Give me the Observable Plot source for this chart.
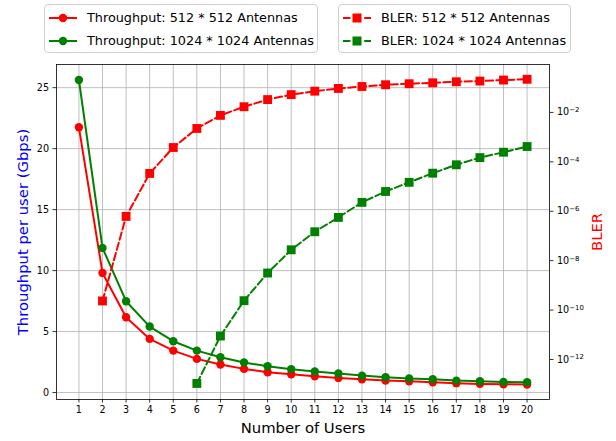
<!DOCTYPE html>
<html><head><meta charset="utf-8">
<script src="https://cdn.jsdelivr.net/npm/d3@7"></script>
<script src="https://cdn.jsdelivr.net/npm/@observablehq/plot@0.6"></script>
<style>
body{margin:0;background:#fff;font-family:"DejaVu Sans",sans-serif;}
#wrap{position:relative;width:616px;height:441px;overflow:hidden;background:#fff;}
#legend{position:relative;height:60px;}
.box{position:absolute;top:4px;height:47px;border:1px solid #d0d0d0;border-radius:4px;background:rgba(255,255,255,0.8);box-sizing:content-box;}
.sym{position:absolute;left:4px;width:28px;height:20px;}
.lab{position:absolute;left:42px;height:20px;line-height:20px;font-size:12.8px;color:#000;white-space:nowrap;}
#layer2{position:absolute;left:0;top:60px;}
</style></head>
<body><div id="wrap"><div id="legend"></div><div id="layer1"></div><div id="layer2"></div></div>
<script>
// ---- data ----
const users = [1,2,3,4,5,6,7,8,9,10,11,12,13,14,15,16,17,18,19,20];
const leftTicks = [0,5,10,15,20,25];
const rightTicks = [1e-2,1e-4,1e-6,1e-8,1e-10,1e-12];
const rightTickExps = ["−2","−4","−6","−8","−10","−12"];
const thr512  = [21.75,9.81,6.17,4.40,3.44,2.76,2.30,1.94,1.67,1.50,1.34,1.20,1.09,0.98,0.93,0.85,0.77,0.71,0.68,0.66];
const thr1024 = [25.63,11.86,7.49,5.41,4.21,3.44,2.90,2.46,2.16,1.92,1.72,1.56,1.39,1.26,1.15,1.09,0.98,0.93,0.87,0.85];
const bler512  = [null,2.34e-10,6.17e-7,3.39e-5,3.80e-4,2.24e-3,7.59e-3,1.70e-2,3.31e-2,5.25e-2,7.24e-2,9.33e-2,0.112,0.132,0.145,0.158,0.174,0.186,0.204,0.219];
const bler1024 = [null,null,null,null,null,1.07e-13,8.91e-12,2.40e-10,3.16e-9,2.75e-8,1.48e-7,5.62e-7,2.29e-6,6.31e-6,1.48e-5,3.47e-5,7.59e-5,1.48e-4,2.45e-4,4.17e-4];
const legendLeft = [
  {label:"Throughput: 512 * 512 Antennas", color:"red", symbol:"circle", dash:null},
  {label:"Throughput: 1024 * 1024 Antennas", color:"green", symbol:"circle", dash:null}
];
const legendRight = [
  {label:"BLER: 512 * 512 Antennas", color:"red", symbol:"square", dash:"7.4,3.2"},
  {label:"BLER: 1024 * 1024 Antennas", color:"green", symbol:"square", dash:"7.4,3.2"}
];

// ---- tables ----
const toRows = vals => users.map((u,i)=>({users:u, value:vals[i]})).filter(d=>d.value!=null);
const t512 = toRows(thr512), t1024 = toRows(thr1024);
const b512 = toRows(bler512), b1024 = toRows(bler1024);

const W=616, H=381, mL=56, mR=67, mT=4, mB=42;
const xDomain=[0.05,20.95];
const gridStyle={stroke:"#b0b0b0",strokeOpacity:1,strokeWidth:0.8};
const common={width:W,height:H,marginLeft:mL,marginRight:mR,marginTop:mT,marginBottom:mB,
  style:{fontFamily:"DejaVu Sans",fontSize:"9.6px",background:"transparent",overflow:"visible"}};

const p1 = Plot.plot({...common,
  x:{domain:xDomain},
  y:{domain:[-0.57,26.9]},
  marks:[
    Plot.gridX(users,gridStyle),
    Plot.gridY(leftTicks,gridStyle),
    Plot.line(t512,{x:"users",y:"value",stroke:"red",strokeWidth:2}),
    Plot.dot(t512,{x:"users",y:"value",r:4.2,fill:"red"}),
    Plot.line(t1024,{x:"users",y:"value",stroke:"green",strokeWidth:2}),
    Plot.dot(t1024,{x:"users",y:"value",r:4.2,fill:"green"}),
    Plot.axisX(users,{tickSize:3.5,tickPadding:3.5,fontSize:9.6,label:null,stroke:"black",strokeWidth:0.8}),
    Plot.axisY(leftTicks,{anchor:"left",tickSize:3.5,tickPadding:4,fontSize:9.6,label:null,stroke:"black",strokeWidth:0.8}),
    Plot.text(["Number of Users"],{frameAnchor:"bottom",dy:29,fontSize:14.8,lineAnchor:"middle",textAnchor:"middle",fill:"black"}),
    Plot.text(["Throughput per user (Gbps)"],{frameAnchor:"left",dx:-33,rotate:-90,fill:"blue",fontSize:14.8,textAnchor:"middle",lineAnchor:"middle"})
  ]
});
document.getElementById("layer1").appendChild(p1);

const p2 = Plot.plot({...common,
  x:{domain:xDomain, axis:null},
  y:{type:"log", domain:[2.4e-14,0.87]},
  marks:[
    Plot.line(b512,{x:"users",y:"value",stroke:"red",strokeWidth:2,strokeDasharray:"7.4,3.2"}),
    Plot.dot(b512,{x:"users",y:"value",symbol:"square",r:5,fill:"red"}),
    Plot.line(b1024,{x:"users",y:"value",stroke:"green",strokeWidth:2,strokeDasharray:"7.4,3.2"}),
    Plot.dot(b1024,{x:"users",y:"value",symbol:"square",r:5,fill:"green"}),
    Plot.frame({stroke:"black",strokeWidth:0.8}),
    Plot.axisY(rightTicks,{anchor:"right",tickSize:3.5,tickPadding:4,fontSize:9.6,label:null,stroke:"black",strokeWidth:0.8,
      tickFormat:d=>"10^"+rightTickExps[rightTicks.indexOf(d)]}),
    Plot.text(["BLER"],{frameAnchor:"right",dx:48,rotate:-90,fill:"red",fontSize:14.8,textAnchor:"middle",lineAnchor:"middle"})
  ]
});
document.getElementById("layer2").appendChild(p2);
// render exponents as superscripts (like mathtext)
p2.querySelectorAll("text").forEach(t=>{
  const s=t.textContent;
  if(s.startsWith("10^")){
    const exp=s.slice(3);
    t.textContent="10";
    const ts=document.createElementNS("http://www.w3.org/2000/svg","tspan");
    ts.setAttribute("dy","-0.45em"); ts.setAttribute("font-size","0.72em");
    ts.textContent=exp; t.appendChild(ts);
  }
});

// ---- legend ----
function makeBox(entries,left,width){
  const box=document.createElement("div");
  box.className="box"; box.style.left=left+"px"; box.style.width=width+"px";
  const rowTops=[3,26];
  entries.forEach((e,i)=>{
    const ns="http://www.w3.org/2000/svg";
    const s=document.createElementNS(ns,"svg");
    s.setAttribute("class","sym"); s.setAttribute("width","28"); s.setAttribute("height","20");
    s.style.top=rowTops[i]+"px";
    const ln=document.createElementNS(ns,"line");
    ln.setAttribute("x1","0");ln.setAttribute("x2","28");ln.setAttribute("y1","10");ln.setAttribute("y2","10");
    ln.setAttribute("stroke",e.color);ln.setAttribute("stroke-width","2");
    if(e.dash) ln.setAttribute("stroke-dasharray",e.dash);
    s.appendChild(ln);
    let m;
    if(e.symbol==="circle"){m=document.createElementNS(ns,"circle");m.setAttribute("cx","14");m.setAttribute("cy","10");m.setAttribute("r","4.2");}
    else {m=document.createElementNS(ns,"rect");m.setAttribute("x","9.5");m.setAttribute("y","5.5");m.setAttribute("width","9");m.setAttribute("height","9");}
    m.setAttribute("fill",e.color); s.appendChild(m);
    box.appendChild(s);
    const t=document.createElement("div"); t.className="lab"; t.style.top=rowTops[i]+"px"; t.textContent=e.label;
    box.appendChild(t);
  });
  document.getElementById("legend").appendChild(box);
}
makeBox(legendLeft,44,272);
makeBox(legendRight,338,231);
</script>
</body></html>
